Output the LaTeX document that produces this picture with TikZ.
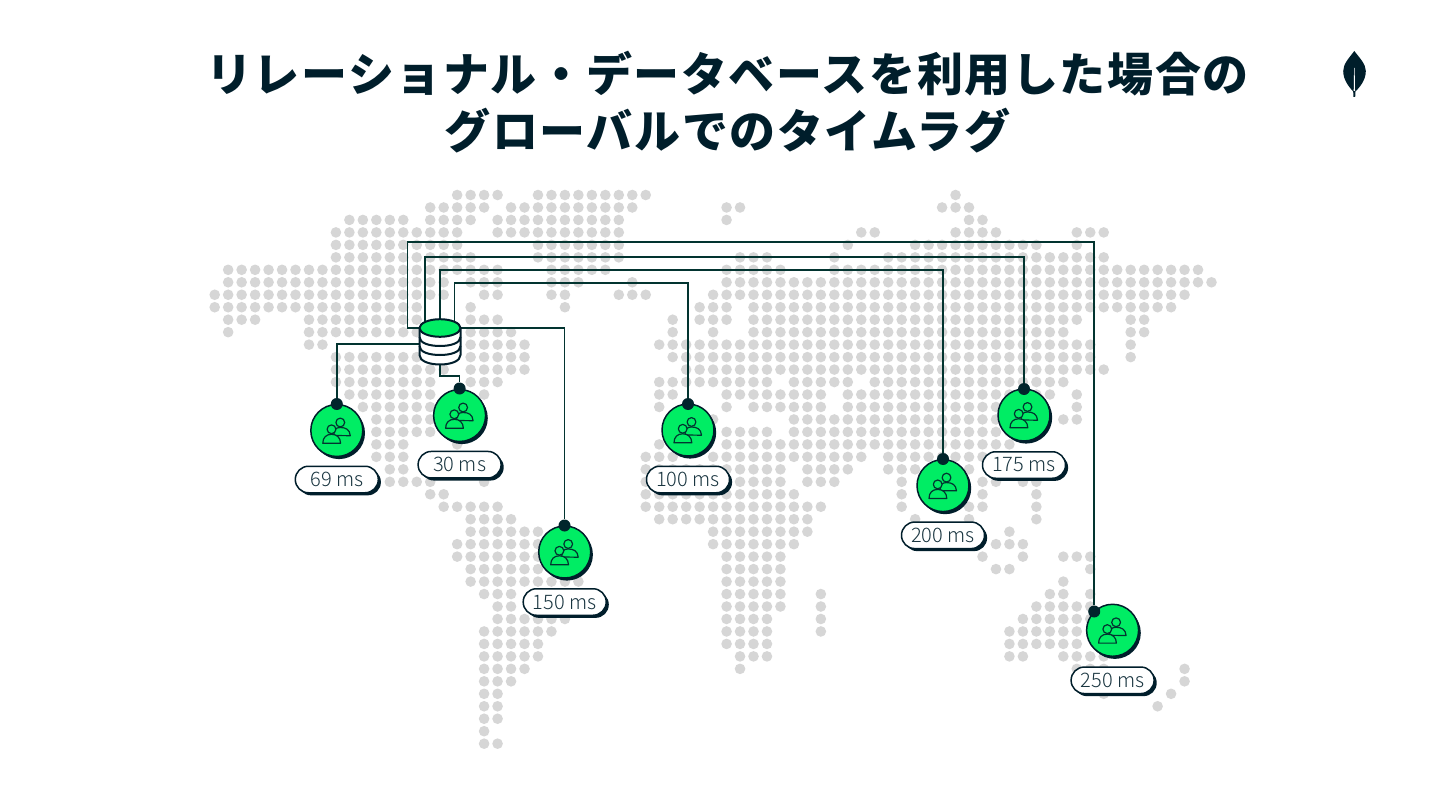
\documentclass[tikz,border=0pt]{standalone}
\usepackage{fontspec}
\usetikzlibrary{shadows}
\newfontfamily\titlefont[LetterSpace=3.5]{Noto Sans CJK JP}
\newfontfamily\labfont{Noto Sans CJK JP Light}
\definecolor{ink}{HTML}{001E2B}
\definecolor{wire}{HTML}{023430}
\definecolor{leafgreen}{HTML}{00ED64}
\definecolor{mapdot}{HTML}{D6D6D6}
\tikzset{
  conn/.style={draw=wire,line width=1.7pt},
  pinhead/.style={circle,fill=ink!70!wire,inner sep=0pt,minimum size=12pt},
  usercircle/.style={circle,fill=leafgreen,draw=ink,line width=1.5pt,inner sep=0pt,minimum size=52pt,
    drop shadow={shadow xshift=2.2pt,shadow yshift=-2.6pt,fill=ink,opacity=1}},
  pill/.style={rectangle,rounded corners=13.2pt,fill=white,draw=ink,line width=1.5pt,inner sep=0pt,
    minimum width=83pt,minimum height=26.5pt,font=\labfont\fontsize{20}{22}\selectfont,text=ink!90!white,
    drop shadow={shadow xshift=2.6pt,shadow yshift=-2.6pt,fill=ink,opacity=1}},
  titletext/.style={font=\titlefont\bfseries\fontsize{46}{57}\selectfont,text=ink,align=center,inner sep=0pt},
  person/.style={draw=wire,line width=1.2pt,line join=round},
  people/.pic={
    \draw[person,fill=leafgreen] (3.5,-8) circle (4.4);
    \draw[person,fill=leafgreen] (-3,5) .. controls (-3,-1) and (-1,-3) .. (3.5,-3) .. controls (9,-3) and (13,-1) .. (13.5,5.2) -- cycle;
    \draw[person,fill=leafgreen] (-5.3,-1.2) circle (4.4);
    \draw[person,fill=leafgreen] (-14,12.8) .. controls (-14,7) and (-10.5,3.8) .. (-5.3,3.8) .. controls (0,3.8) and (3.6,7) .. (3.8,12.8) -- cycle;
  }
}
\newcommand{\dotrow}[2]{%
  \foreach \ca/\cb in {#2}{%
    \foreach \cc in {\ca,...,\cb}{%
      \fill[mapdot] ({214.7+13.47*\cc},{195+12.47*#1}) circle (5.3);
    }%
  }%
}
\newcommand{\usernode}[5]{% name, cx, cy, label, labelcy
  \node[usercircle] (u#1) at (#2,#3) {};
  \pic at (u#1) {people};
  \node[pill] (l#1) at (#2,#5) {#4};
}
\begin{document}
\begin{tikzpicture}[x=1pt,y=-1pt]
\useasboundingbox (0,0) rectangle (1440,810);
\fill[white] (0,0) rectangle (1440,810);

\node[titletext] (title) at (727.5,102) {リレーショナル・データベースを利用した場合の\\グローバルでのタイムラグ};

% logo leaf
\fill[ink] (1354.3,51) .. controls (1349,58) and (1343.2,64) .. (1343.2,71) .. controls (1343.2,80) and (1349,87) .. (1353.2,91.5) -- (1353.4,97) -- (1355.2,97) -- (1355.4,91.5) .. controls (1360,87) and (1365.8,80) .. (1365.8,71) .. controls (1365.8,64) and (1359.6,58) .. (1354.3,51) -- cycle;
\fill[white] (1354.1,68) -- (1354.6,68) -- (1355,91) -- (1353.7,91) -- cycle;

% dotted map
\dotrow{0}{18/21,24/32,55/55}
\dotrow{1}{16/20,22/31,38/39,54/56}
\dotrow{2}{10/14,16/19,21/30,38/38,56/57}
\dotrow{3}{9/18,21/30,48/49,55/58,64/66}
\dotrow{4}{9/18,24/30,47/47,52/61,64/64}
\dotrow{5}{9/19,24/30,39/41,46/46,50/66}
\dotrow{6}{1/21,25/29,38/42,46/73}
\dotrow{7}{1/17,19/21,25/27,31/31,38/74}
\dotrow{8}{0/17,20/21,25/26,30/32,37/72}
\dotrow{9}{0/15,19/19,26/26,36/38,40/71}
\dotrow{10}{1/3,7/15,19/21,34/34,36/38,40/64,68/69}
\dotrow{11}{1/1,7/17,19/22,34/34,37/37,40/63,68/69}
\dotrow{12}{7/8,19/23,33/65,68/68}
\dotrow{13}{9/16,19/23,34/65,68/68}
\dotrow{14}{9/17,19/23,35/66}
\dotrow{15}{9/16,19/21,33/41,43/47,49/63}
\dotrow{16}{10/16,20/20,33/34,38/45,47/62,64/64}
\dotrow{17}{11/16,33/33,38/38,40/45,47/61,64/64}
\dotrow{18}{12/16,37/37,43/59,63/64}
\dotrow{19}{12/16,38/41,43/59}
\dotrow{20}{12/14,18/18,33/33,38/59}
\dotrow{21}{12/14,32/34,37/48,50/57}
\dotrow{22}{13/14,32/42,44/47,50/52,56/56}
\dotrow{23}{13/16,20/20,32/42,44/46,51/51,57/58,60/61}
\dotrow{24}{16/17,32/43,51/51,57/57,61/61}
\dotrow{25}{17/21,32/45,51/51,56/57,61/61}
\dotrow{26}{19/22,33/44,52/52,56/56,61/61}
\dotrow{27}{19/24,37/44,59/59}
\dotrow{28}{18/24,37/43,58/60}
\dotrow{29}{18/24,38/42,57/57,60/60,63/65}
\dotrow{30}{19/24,38/42,58/59,65/65}
\dotrow{31}{19/27,38/42,63/63}
\dotrow{32}{20/22,38/42,45/45,62/63,65/65}
\dotrow{33}{21/22,38/42,45/45,61/65}
\dotrow{34}{21/26,38/41,45/45,60/65}
\dotrow{35}{20/25,38/41,45/45,59/64}
\dotrow{36}{20/24,38/41,59/64}
\dotrow{37}{20/24,39/41,59/60,63/66}
\dotrow{38}{20/23,39/39,64/66,72/72}
\dotrow{39}{20/22,72/72}
\dotrow{40}{20/21,66/66,71/71}
\dotrow{41}{20/21,70/70}
\dotrow{42}{20/21}
\dotrow{43}{20/20}
\dotrow{44}{20/21}

% user nodes
\usernode{a}{336.8}{430.5}{69 ms}{479.5}
\usernode{b}{459.6}{415.5}{30 ms}{464.7}
\usernode{c}{564.7}{552}{150 ms}{602}
\usernode{d}{688}{430}{100 ms}{479.5}
\usernode{e}{943}{485.6}{200 ms}{535.3}
\usernode{f}{1024}{415}{175 ms}{465}
\usernode{g}{1112.6}{630.3}{250 ms}{680.3}

% pins
\node[pinhead] (pa) at (336.8,404) {};
\node[pinhead] (pb) at (459.6,388.5) {};
\node[pinhead] (pc) at (564.5,525.5) {};
\node[pinhead] (pd) at (688,404) {};
\node[pinhead] (pe) at (943,459) {};
\node[pinhead] (pf) at (1024,389) {};
\node[pinhead] (pg) at (1094.2,611.5) {};

% database anchor points
\coordinate (dbL1) at (421,327.8);
\coordinate (dbL2) at (421,343.7);
\coordinate (dbR) at (459,327.8);
\coordinate (dbT1) at (425.2,325);
\coordinate (dbT2) at (439.8,325);
\coordinate (dbT3) at (454.4,325);
\coordinate (dbB) at (440,362);
\coordinate (cg) at (407.4,242);
\coordinate (cf) at (425.2,256.8);
\coordinate (ce) at (439.8,270);
\coordinate (cd) at (454.4,283);
\coordinate (cb) at (440,376);

% connectors
\draw[conn] (dbL1) -| (cg) -| (pg);
\draw[conn] (dbT1) -- (cf) -| (pf);
\draw[conn] (dbT2) -- (ce) -| (pe);
\draw[conn] (dbT3) -- (cd) -| (pd);
\draw[conn] (dbR) -| (pc);
\draw[conn] (dbL2) -| (pa);
\draw[conn] (dbB) -- (cb) -| (pb);

% database
\draw[draw=ink,line width=2pt,fill=white] (419.5,328) -- (419.5,355) .. controls (419.5,361) and (429,364.5) .. (440,364.5) .. controls (451,364.5) and (460.5,361) .. (460.5,355) -- (460.5,328) -- cycle;
\draw[draw=ink,line width=2pt] (419.5,337) .. controls (419.5,343) and (429,346) .. (440,346) .. controls (451,346) and (460.5,343) .. (460.5,337);
\draw[draw=ink,line width=2pt] (419.5,346) .. controls (419.5,352) and (429,355) .. (440,355) .. controls (451,355) and (460.5,352) .. (460.5,346);
\draw[draw=ink,line width=2pt,fill=leafgreen] (440,328) ellipse (20.5 and 8.8);
\end{tikzpicture}
\end{document}
